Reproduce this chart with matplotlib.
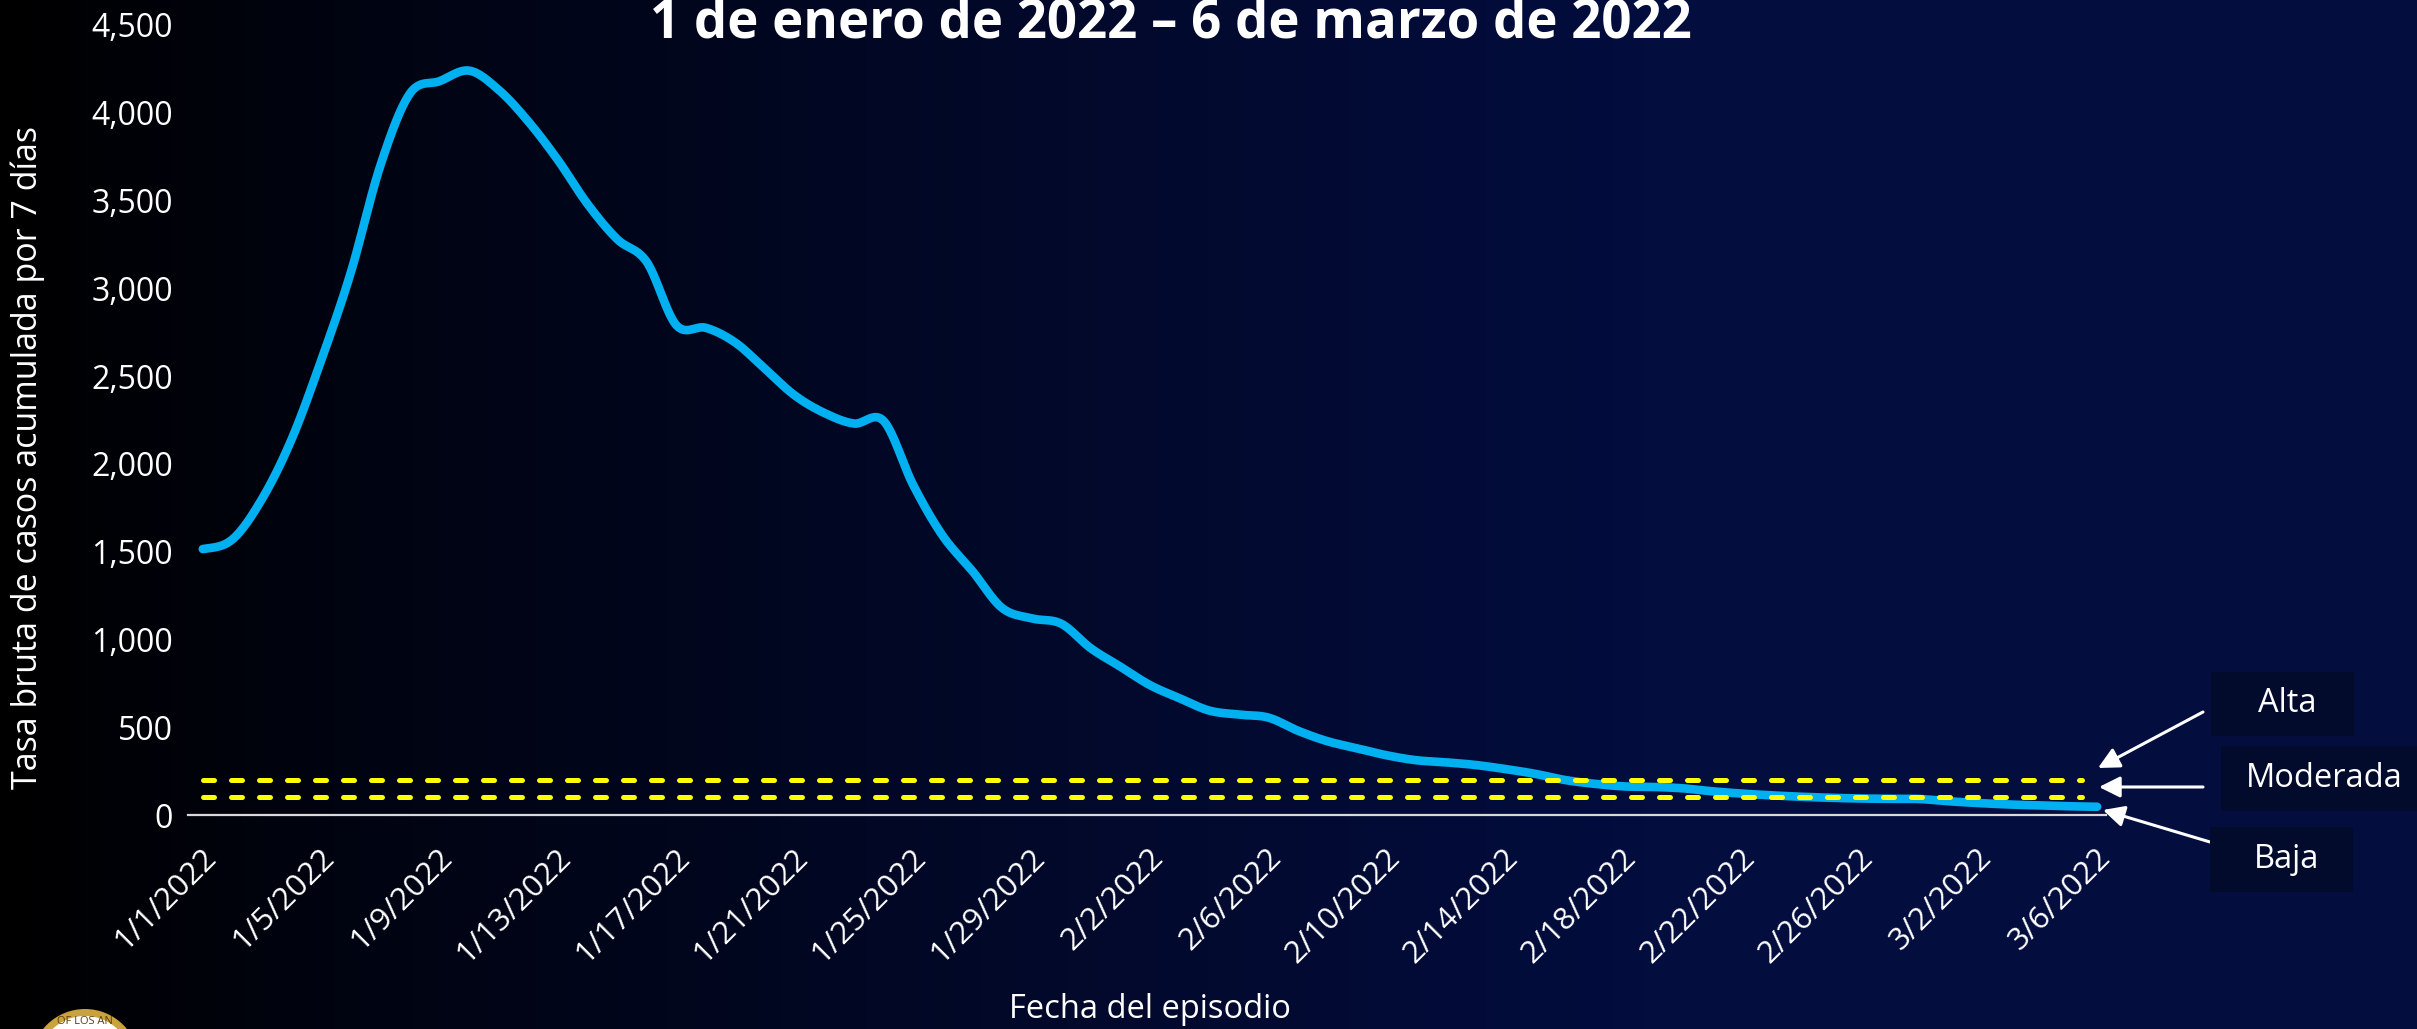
import numpy as np
import matplotlib
matplotlib.use('Agg')
import matplotlib.pyplot as plt
from matplotlib.transforms import ScaledTranslation, IdentityTransform
from matplotlib.patches import Rectangle, Circle

# daily 7-day cumulative crude case rate, 1/1/2022 .. 3/6/2022
rate = [1515, 1570, 1800, 2140, 2590, 3090, 3700, 4110, 4180, 4240,
        4130, 3950, 3730, 3480, 3280, 3150, 2790, 2775, 2690, 2540,
        2390, 2290, 2230, 2245, 1880, 1590, 1390, 1180, 1120, 1090,
        950, 845, 740, 665, 595, 572, 555, 480, 420, 380,
        340, 312, 300, 285, 262, 235, 200, 178, 163, 160,
        152, 135, 122, 112, 104, 98, 94, 92, 91, 78,
        68, 60, 55, 50, 47]
tick_labels = ['1/1/2022', '1/5/2022', '1/9/2022', '1/13/2022', '1/17/2022',
               '1/21/2022', '1/25/2022', '1/29/2022', '2/2/2022', '2/6/2022',
               '2/10/2022', '2/14/2022', '2/18/2022', '2/22/2022', '2/26/2022',
               '3/2/2022', '3/6/2022']
thresholds = [200, 100]
levels = ['Alta', 'Moderada', 'Baja']

W, H = 2417, 1029
FONT = 'Open Sans'
plt.rcParams['font.family'] = [FONT, 'DejaVu Sans']


def smooth(y, n=24):
    # catmull-rom through the daily points (like Excel's smoothed line)
    y = np.asarray(y, float)
    p = np.r_[y[0], y, y[-1]]
    t = np.linspace(0, 1, n, endpoint=False)
    xs, ys = [], []
    for i in range(len(y) - 1):
        p0, p1, p2, p3 = p[i], p[i + 1], p[i + 2], p[i + 3]
        v = 0.5 * (2 * p1 + (-p0 + p2) * t + (2 * p0 - 5 * p1 + 4 * p2 - p3) * t ** 2
                   + (-p0 + 3 * p1 - 3 * p2 + p3) * t ** 3)
        xs.append(i + t)
        ys.append(v)
    xs.append([len(y) - 1])
    ys.append([y[-1]])
    return np.concatenate(xs), np.concatenate(ys)


def fx(px):
    return px / W


def fy(py):
    # pixel measured from top -> figure fraction
    return 1 - py / H


fig = plt.figure(figsize=(W / 100, H / 100), dpi=100)

# background gradient, black on the left to navy on the right
bg = fig.add_axes([0, 0, 1, 1], zorder=-10)
u = np.linspace(0, 1, 600)
k = np.clip(u / 0.68, 0, 1) ** 0.85
navy = np.array([3, 13, 62]) / 255
img = (k[:, None] * navy[None, :])[None, :, :]
bg.imshow(img, aspect='auto', extent=[0, 1, 0, 1])
bg.set_axis_off()

ax = fig.add_axes([fx(188), fy(815), fx(2106 - 188), (815 - 25) / H])
ax.set_facecolor('none')

sx, sy = smooth(rate)
ax.plot(sx, sy, color='#00b0f0', lw=6.2, solid_capstyle='round', zorder=3)
for th in thresholds:
    ax.plot([0, 63.5], [th, th], color='#ffff00', lw=3.6, dash_capstyle='round',
            dashes=(2.2, 3.4), zorder=4)

ax.set_xlim(-0.5, 64.3)
ax.set_ylim(0, 4500)
ax.set_yticks(range(0, 4501, 500))
ax.set_yticklabels([f'{v:,}' for v in range(0, 4501, 500)])
ax.set_xticks(range(0, 65, 4))
ax.set_xticklabels(tick_labels, rotation=45, ha='right', va='top', rotation_mode='anchor')
ax.tick_params(axis='y', length=0, pad=11, labelsize=23, colors='white')
ax.tick_params(axis='x', length=0, pad=20, labelsize=22.5, colors='white')
for lab in ax.get_xticklabels():
    lab.set_transform(lab.get_transform() + ScaledTranslation(-0.02, 0, fig.dpi_scale_trans))
for s in ['top', 'right', 'left']:
    ax.spines[s].set_visible(False)
ax.spines['bottom'].set_color('#d9d9d9')
ax.spines['bottom'].set_linewidth(1.6)

fig.text(fx(1171), fy(38), '1 de enero de 2022 \u2013 6 de marzo de 2022', color='white',
         fontsize=38, fontweight='bold', ha='center', va='baseline')
fig.text(fx(1150), fy(1010), 'Fecha del episodio', color='white', fontsize=23.5,
         ha='center', va='center')
fig.text(fx(28), fy(458), 'Tasa bruta de casos acumulada por 7 días', color='white',
         fontsize=24.5, rotation=90, ha='center', va='center')

# level boxes and arrows
boxes = [(2211, 672, 2354, 736), (2221, 746, 2417, 811), (2210, 827, 2353, 892)]
arrows = [((2203, 712), (2098, 768)), ((2203, 787), (2099, 787)), ((2210, 842), (2103, 810))]
for name, (x0, y0, x1, y1), (tail, head) in zip(levels, boxes, arrows):
    fig.patches.append(Rectangle((fx(x0), fy(y1)), fx(x1 - x0), (y1 - y0) / H,
                                 transform=fig.transFigure, facecolor='#020b2b',
                                 edgecolor='none', zorder=5))
    fig.text(fx((x0 + x1) / 2) + 0.002, fy((y0 + y1) / 2), name, color='white', fontsize=23.5,
             ha='center', va='center', zorder=6)
    ax.annotate('', xy=(head[0], H - head[1]), xycoords='figure pixels',
                xytext=(tail[0], H - tail[1]), textcoords='figure pixels',
                arrowprops=dict(arrowstyle='-|>', color='white', lw=2.2,
                                mutation_scale=32, shrinkA=0, shrinkB=0))

# county seal peeking in at the bottom-left corner
fig.patches.append(Circle((85, H - 1063), 54, transform=IdentityTransform(),
                          facecolor='#c9a23c', edgecolor='none', zorder=5))
fig.patches.append(Circle((85, H - 1063), 47, transform=IdentityTransform(),
                          facecolor='white', edgecolor='none', zorder=6))
fig.text(fx(85), fy(1021), 'OF LOS AN', color='#5a3d10', fontsize=8, ha='center',
         va='center', zorder=7)

fig.savefig('out.png', dpi=100)
